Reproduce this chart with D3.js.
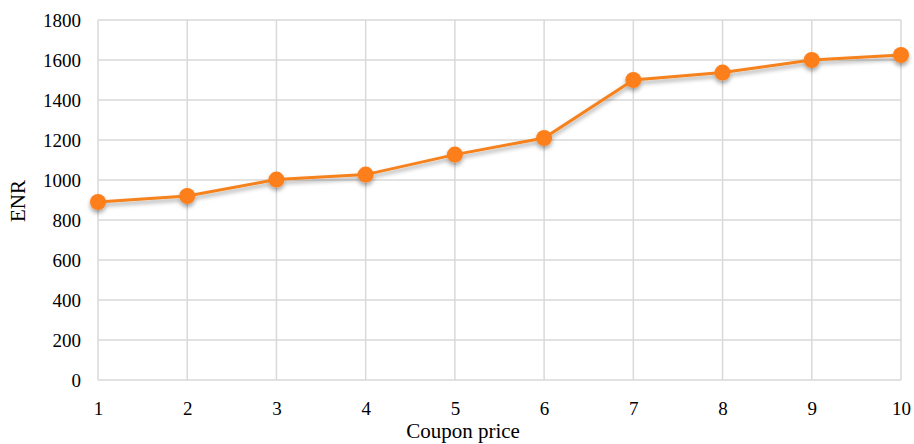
<!DOCTYPE html>
<meta charset="utf-8">
<style>
	body { margin: 0; background: #fff; }
	.grid line { stroke: #d9d9d9; stroke-width: 1.5px; }
	.label { font: 21px "Liberation Serif", "Times New Roman", serif; fill: #000; }
	.line { fill: none; stroke: #f5821f; stroke-width: 3px; }
</style>
<svg width="914" height="444"></svg>
<script src="https://cdn.jsdelivr.net/npm/d3@7"></script>
<script>

var prices = [1, 2, 3, 4, 5, 6, 7, 8, 9, 10];
var enr = [890, 920, 1002, 1027, 1127, 1210, 1500, 1537, 1600, 1625];
var yTicks = [0, 200, 400, 600, 800, 1000, 1200, 1400, 1600, 1800];

var svg = d3.select("svg"),
	margin = {top: 20, right: 13, bottom: 64, left: 98},
	width = 914 - margin.left - margin.right,
	height = 444 - margin.top - margin.bottom,
	g = svg.append("g").attr("transform", "translate(" + margin.left + "," + margin.top + ")");

var x = d3.scaleLinear().domain([1, 10]).range([0, width]),
	y = d3.scaleLinear().domain([0, 1800]).range([height, 0]);

// soft drop shadow under line and markers
var f = svg.append("defs").append("filter").attr("id", "shadow")
	.attr("x", "-20%").attr("y", "-20%").attr("width", "140%").attr("height", "160%");
f.append("feDropShadow").attr("dx", 0).attr("dy", 3).attr("stdDeviation", 2)
	.attr("flood-color", "#000").attr("flood-opacity", 0.35);

// gridlines
g.append("g").attr("class", "grid")
	.selectAll("line").data(yTicks).enter().append("line")
	.attr("x1", 0).attr("x2", width)
	.attr("y1", function(d) { return y(d); }).attr("y2", function(d) { return y(d); });

g.append("g").attr("class", "grid")
	.selectAll("line").data(prices).enter().append("line")
	.attr("y1", 0).attr("y2", height)
	.attr("x1", function(d) { return x(d); }).attr("x2", function(d) { return x(d); });

function styleAxis(a) {
	a.select(".domain").remove();
	a.attr("font-family", "'Liberation Serif', 'Times New Roman', serif")
		.attr("font-size", 19);
	a.selectAll("text").attr("fill", "#000");
}

// axes, text only
g.append("g")
	.attr("transform", "translate(0," + height + ")")
	.call(d3.axisBottom(x).tickValues(prices).tickSize(0).tickPadding(22).tickFormat(d3.format("d")))
	.call(styleAxis);

g.append("g")
	.call(d3.axisLeft(y).tickValues(yTicks).tickSize(0).tickPadding(17).tickFormat(d3.format("d")))
	.call(styleAxis);

var data = prices.map(function(p, i) { return {p: p, v: enr[i]}; });

var series = g.append("g").attr("filter", "url(#shadow)");

series.append("path")
	.datum(data)
	.attr("class", "line")
	.attr("d", d3.line()
		.x(function(d) { return x(d.p); })
		.y(function(d) { return y(d.v); }));

series.selectAll("circle").data(data).enter().append("circle")
	.attr("cx", function(d) { return x(d.p); })
	.attr("cy", function(d) { return y(d.v); })
	.attr("r", 8)
	.attr("fill", "#fd7f1c");

svg.append("text")
	.attr("class", "label")
	.attr("text-anchor", "middle")
	.attr("transform", "translate(25,201) rotate(-90)")
	.text("ENR");

svg.append("text")
	.attr("class", "label")
	.attr("text-anchor", "middle")
	.attr("x", 463)
	.attr("y", 438)
	.text("Coupon price");

</script>
